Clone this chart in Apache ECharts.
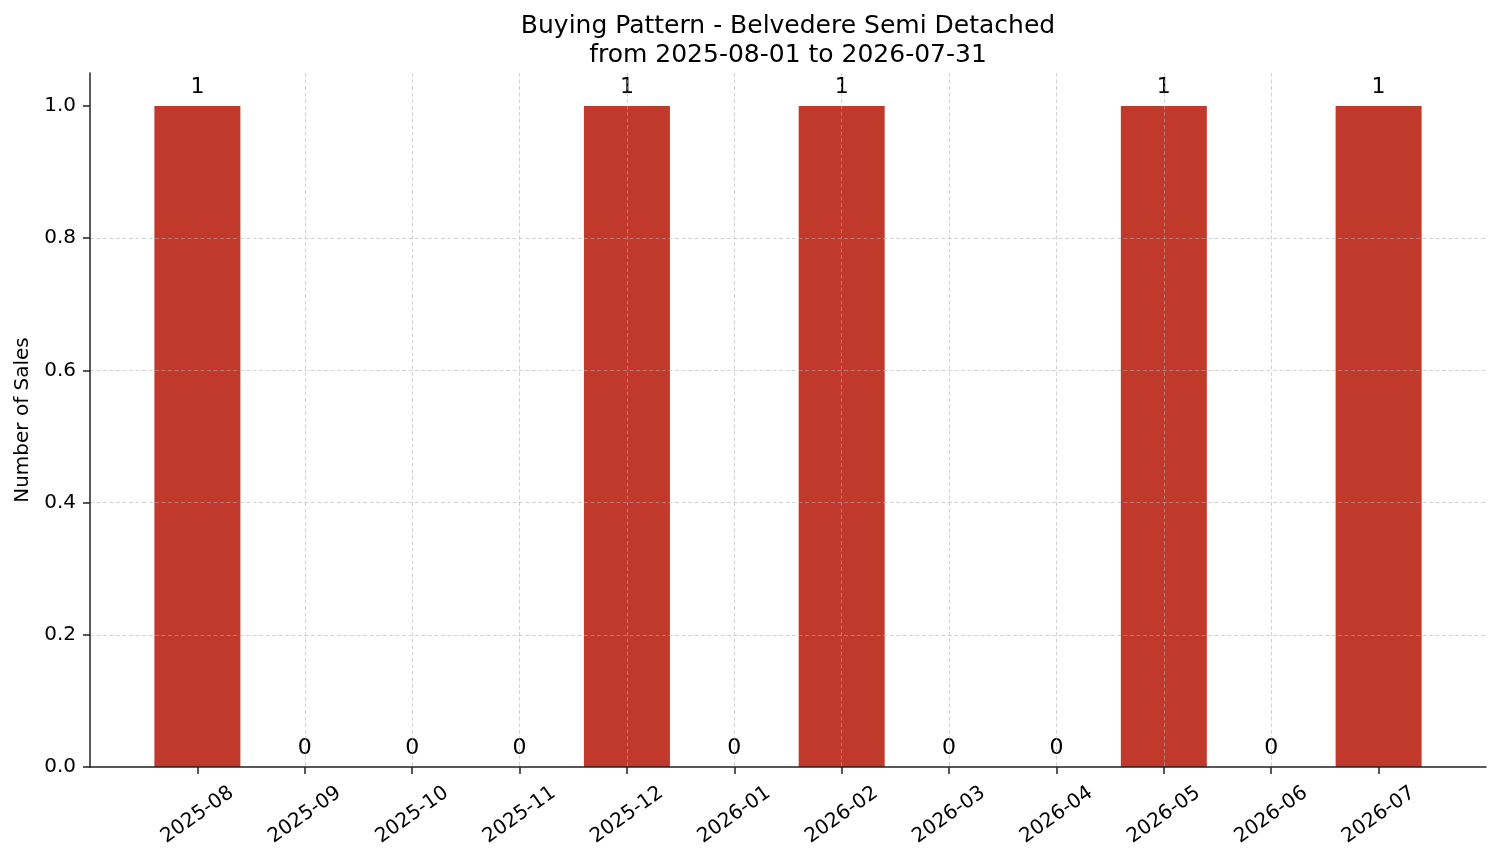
<!DOCTYPE html>
<html>
<head>
    <meta charset="utf-8">
    <title>Buying Pattern - Belvedere Semi Detached</title>
    <script src="https://cdn.jsdelivr.net/npm/echarts@6.0.0/dist/echarts.min.js"></script>
    <style>
        html, body { margin: 0; padding: 0; background: #fff; }
        #chart { width: 1501px; height: 863px; }
    </style>
</head>
<body>
    <div id="chart"></div>
    <script>
        // data
        const months = ['2025-08', '2025-09', '2025-10', '2025-11', '2025-12', '2026-01',
                        '2026-02', '2026-03', '2026-04', '2026-05', '2026-06', '2026-07'];
        const sales = [1, 0, 0, 0, 1, 0, 1, 0, 0, 1, 0, 1];
        const yTicks = [0, 0.2, 0.4, 0.6, 0.8, 1.0];

        const font = 'DejaVu Sans';
        const gridLine = { show: true, showMinLine: false, showMaxLine: false,
            lineStyle: { color: 'rgba(176,176,176,0.55)', width: 1, type: [4, 2.5] } };
        const monthIdx = months.map((m, i) => i);

        const chart = echarts.init(document.getElementById('chart'));
        chart.setOption({
            animation: false,
            textStyle: { fontFamily: font },
            title: {
                text: 'Buying Pattern - Belvedere Semi Detached\nfrom 2025-08-01 to 2026-07-31',
                left: 783,
                textAlign: 'center',
                top: 7,
                textStyle: { fontFamily: font, fontSize: 25, fontWeight: 'normal', color: '#000', lineHeight: 29 }
            },
            grid: { left: 90, right: 15, top: 73, bottom: 96, containLabel: false, outerBoundsMode: 'none' },
            xAxis: {
                type: 'value',
                min: -1,
                max: 12,
                interval: 1,
                z: 3,
                axisLine: { onZero: false, lineStyle: { color: '#222', width: 1.5 } },
                axisTick: { show: true, length: 7, customValues: monthIdx, lineStyle: { color: '#222', width: 1.5 } },
                axisLabel: {
                    customValues: monthIdx,
                    formatter: v => months[v] || '',
                    rotate: 35,
                    align: 'center',
                    verticalAlign: 'middle',
                    margin: 48,
                    fontSize: 20,
                    color: '#000',
                    fontFamily: font
                },
                splitLine: gridLine
            },
            yAxis: {
                type: 'value',
                min: 0,
                max: 1.05,
                z: 3,
                name: 'Number of Sales',
                nameLocation: 'middle',
                nameGap: 56,
                nameTextStyle: { fontSize: 20, color: '#000', fontFamily: font },
                axisLine: { show: true, onZero: false, lineStyle: { color: '#222', width: 1.5 } },
                axisTick: { show: true, length: 7, customValues: yTicks, lineStyle: { color: '#222', width: 1.5 } },
                axisLabel: {
                    customValues: yTicks,
                    formatter: v => v.toFixed(1),
                    margin: 14,
                    fontSize: 20,
                    color: '#000',
                    fontFamily: font
                },
                splitLine: gridLine
            },
            series: [{
                type: 'bar',
                barWidth: 86,
                data: sales.map((v, i) => [i, v]),
                itemStyle: { color: '#c0392b' },
                label: {
                    show: true,
                    position: 'top',
                    distance: 8,
                    formatter: p => String(p.value[1]),
                    fontSize: 22,
                    color: '#000',
                    fontFamily: font
                }
            }]
        });
    </script>
</body>
</html>
